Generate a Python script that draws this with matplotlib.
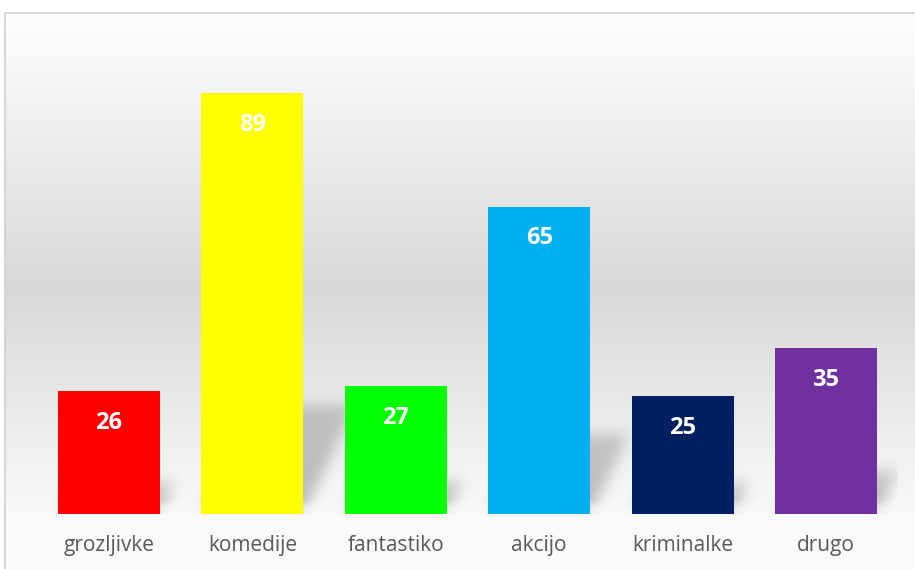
import numpy as np
import matplotlib
matplotlib.use('Agg')
import matplotlib.pyplot as plt
from matplotlib.patches import Rectangle

# data
categories = ['grozljivke', 'komedije', 'fantastiko', 'akcijo', 'kriminalke', 'drugo']
values = [26, 89, 27, 65, 25, 35]
colors = ['#FF0000', '#FFFF00', '#00FF00', '#00B0F0', '#002060', '#7030A0']

W, H = 915, 569
fig = plt.figure(figsize=(W / 100, H / 100), dpi=100)

# background: vertical gray gradient inside a thin border
bg = fig.add_axes([0, 0, 1, 1], zorder=-10)
bg.set_axis_off()
rows = np.arange(H)
stops_y = [0, 12, 13, 290, 520, 569]
stops_v = [255, 255, 254, 216, 250, 251]
col = np.interp(rows, stops_y, stops_v) / 255.0
img = np.repeat(col[:, None], W, axis=1)
img[:, :5] = 1.0
bg.imshow(np.dstack([img, img, img]), extent=[0, W, H, 0], aspect='auto')
bg.add_patch(Rectangle((4.5, 12.5), W + 10, H, fill=False, edgecolor='#d0d0d0', lw=1.2))
bg.set_xlim(0, W)
bg.set_ylim(H, 0)

# main axes, placed in pixels
left_px, right_px = 37.3, 897.7
base_px, top_px = 514, 41
ax = fig.add_axes([left_px / W, (H - base_px) / H, (right_px - left_px) / W, (base_px - top_px) / H])
ax.set_xlim(-0.5, len(categories) - 0.5)
ax.set_ylim(0, 100)
ax.patch.set_alpha(0)
for s in ax.spines.values():
    s.set_visible(False)
ax.set_xticks([])
ax.set_yticks([])

bar_w = 0.71

# perspective shadows (blurred), built from the bar values
px_x = (right_px - left_px) / (len(categories))   # pixels per x unit
px_y = (base_px - top_px) / 100.0                 # pixels per y unit
nx, ny = int(right_px - left_px), int(base_px - top_px)
gx = np.arange(nx) + 0.5
gy = np.arange(ny) + 0.5   # height above base in px
GX, GY = np.meshgrid(gx, gy)
mask = np.zeros((ny, nx))
for i, v in enumerate(values):
    h = v * px_y
    L = (i - bar_w / 2 + 0.5) * px_x
    R = (i + bar_w / 2 + 0.5) * px_x
    sh = 0.26 * h
    dx = 0.125 * h
    s = np.clip(GY / sh, 0, None)
    inside = (GY <= sh) & (GX - dx * s >= L) & (GX - dx * s <= R)
    mask = np.maximum(mask, inside * (1 - 0.3 * s))

def blur(a, sigma):
    r = int(3 * sigma)
    k = np.exp(-0.5 * (np.arange(-r, r + 1) / sigma) ** 2)
    k /= k.sum()
    a = np.apply_along_axis(lambda m: np.convolve(m, k, mode='same'), 0, a)
    a = np.apply_along_axis(lambda m: np.convolve(m, k, mode='same'), 1, a)
    return a

mask = blur(mask, 7)
# lighten the shadow right at the floor line
mask *= np.clip(GY / 14, 0.45, 1)
shadow = np.zeros((ny, nx, 4))
shadow[..., 3] = mask * 0.25
ax.imshow(shadow, extent=[-0.5, len(categories) - 0.5, 0, 100],
          origin='lower', aspect='auto', zorder=1, interpolation='bilinear')

x = np.arange(len(categories))
ax.bar(x, values, width=bar_w, color=colors, zorder=2)

for i, v in enumerate(values):
    ax.annotate(str(v), (i, v), xytext=(0, -23), textcoords='offset points',
                ha='center', va='center', color='white', fontsize=17,
                fontweight='bold', family='Open Sans', zorder=3)
    ax.annotate(categories[i], (i, 0), xytext=(0, -23), textcoords='offset points',
                ha='center', va='center', color='#595959', fontsize=15,
                family='Open Sans', annotation_clip=False)

fig.savefig('out.png', dpi=100)
